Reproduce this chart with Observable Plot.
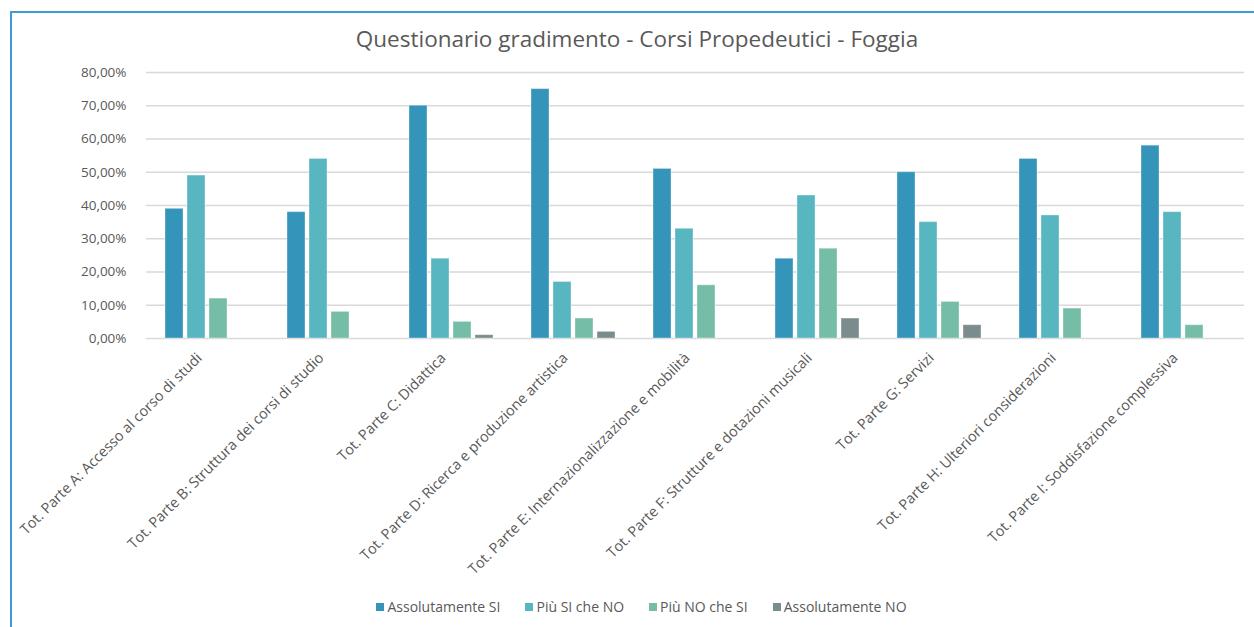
<!DOCTYPE html>
<html>
<head>
<meta charset="utf-8">
<script src="https://cdn.jsdelivr.net/npm/d3@7"></script>
<script src="https://cdn.jsdelivr.net/npm/@observablehq/plot@0.6"></script>
<style>
  html, body { margin: 0; padding: 0; background: #fff; }
  #wrap { position: relative; width: 1254px; height: 627px; overflow: hidden; font-family: "Open Sans", sans-serif; }
  #frame { position: absolute; left: 10px; top: 11px; width: 1400px; height: 800px; border-left: 2px solid #3e9bd3; border-top: 2px solid #3e9bd3; box-sizing: border-box; }
  #title { position: absolute; left: 0; top: 23px; width: 1274px; text-align: center; font-size: 22.5px; color: #595959; }
  #chart { position: absolute; left: 0; top: 60px; }
  #legend { position: absolute; left: 0; top: 597px; width: 1283px; display: flex; justify-content: center; gap: 25px; font-size: 14px; color: #595959; }
  #legend .item { display: flex; align-items: center; }
  #legend .sw { width: 8px; height: 8px; margin-right: 3px; display: inline-block; }
</style>
</head>
<body>
<div id="wrap">
  <div id="frame"></div>
  <div id="title">Questionario gradimento - Corsi Propedeutici - Foggia</div>
  <div id="chart"></div>
  <div id="legend"></div>
</div>
<script>
const categories = [
  "Tot. Parte A: Accesso al corso di studi",
  "Tot. Parte B: Struttura dei corsi di studio",
  "Tot. Parte C: Didattica",
  "Tot. Parte D: Ricerca e produzione artistica",
  "Tot. Parte E: Internazionalizzazione e mobilità",
  "Tot. Parte F: Strutture e dotazioni musicali",
  "Tot. Parte G: Servizi",
  "Tot. Parte H: Ulteriori considerazioni",
  "Tot. Parte I: Soddisfazione complessiva"
];
const seriesNames = ["Assolutamente SI", "Più SI che NO", "Più NO che SI", "Assolutamente NO"];
const seriesColors = ["#3494ba", "#58b6c0", "#75bda7", "#7a8c8e"];
const assolutamenteSI = [39, 38, 70, 75, 51, 24, 50, 54, 58];
const piuSIcheNO      = [49, 54, 24, 17, 33, 43, 35, 37, 38];
const piuNOcheSI      = [12,  8,  5,  6, 16, 27, 11,  9,  4];
const assolutamenteNO = [ 0,  0,  1,  2,  0,  6,  4,  0,  0];
const yTicks = [0, 10, 20, 30, 40, 50, 60, 70, 80];

const seriesValues = [assolutamenteSI, piuSIcheNO, piuNOcheSI, assolutamenteNO];
const data = [];
categories.forEach((c, i) => {
  seriesNames.forEach((s, j) => {
    data.push({category: c, series: s, value: seriesValues[j][i]});
  });
});

const fmt = d => d.toFixed(2).replace(".", ",") + "%";

const chart = Plot.plot({
  width: 1254,
  height: 530,
  marginTop: 12,
  marginLeft: 143,
  marginRight: 7,
  marginBottom: 252,
  style: {fontFamily: "Open Sans, sans-serif", fontSize: "14px", color: "#595959", background: "transparent"},
  fx: {domain: categories, padding: 0, label: null, axis: null},
  x: {domain: seriesNames, paddingInner: 0.2, paddingOuter: 0.87, axis: null},
  y: {domain: [0, 80], label: null, ticks: yTicks, tickFormat: fmt, axis: null},
  color: {domain: seriesNames, range: seriesColors},
  marks: [
    Plot.gridY(yTicks, {stroke: "#d9d9d9", strokeOpacity: 1, strokeWidth: 1.3}),
    Plot.axisY(yTicks, {tickSize: 0, tickPadding: 20, tickFormat: fmt, fontSize: 13.5, label: null}),
    Plot.barY(data, {fx: "category", x: "series", y: "value", fill: "series", stroke: "#ffffff", strokeOpacity: 0.35, strokeWidth: 1}),
    Plot.axisFx({anchor: "bottom", tickSize: 0, tickPadding: 8, tickRotate: -45, textAnchor: "end", fontSize: 14.5, dx: -8, dy: 9, label: null, lineWidth: 100})
  ]
});
document.getElementById("chart").appendChild(chart);

const legend = document.getElementById("legend");
seriesNames.forEach((s, i) => {
  const item = document.createElement("span");
  item.className = "item";
  const sw = document.createElement("span");
  sw.className = "sw";
  sw.style.background = seriesColors[i];
  item.appendChild(sw);
  item.appendChild(document.createTextNode(s));
  legend.appendChild(item);
});
</script>
</body>
</html>
